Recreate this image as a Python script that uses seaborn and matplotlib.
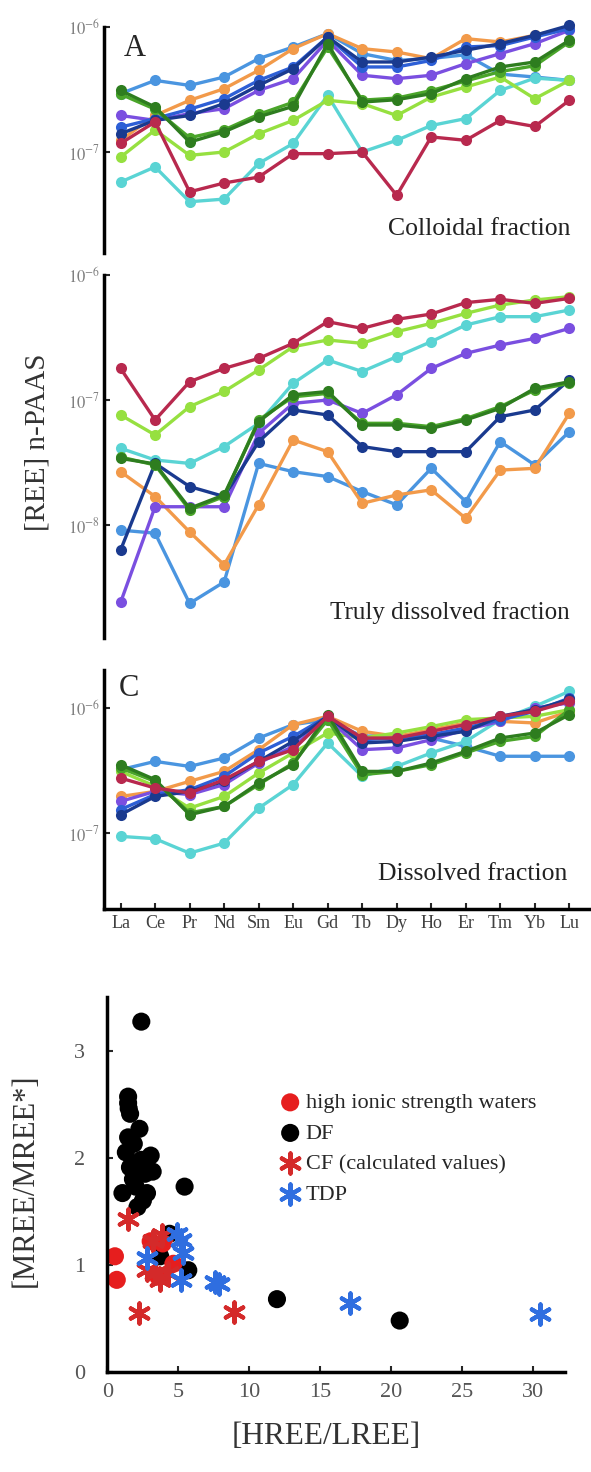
import numpy as np
import pandas as pd
import seaborn as sns
import matplotlib.pyplot as plt

# REE patterns, PAAS-normalised
elements = ['La', 'Ce', 'Pr', 'Nd', 'Sm', 'Eu', 'Gd', 'Tb', 'Dy', 'Ho', 'Er', 'Tm', 'Yb', 'Lu']
samples = ['S6', 'S7', 'S2', 'S3', 'S9', 'S10', 'S8', 'S5', 'S4', 'S1']
sample_colors = {'S1': '#b8294e', 'S2': '#5ad4d4', 'S3': '#96e040', 'S4': '#2e7d1f',
                 'S5': '#4aa52a', 'S6': '#4a95e0', 'S7': '#f29a4a', 'S8': '#1a3a8f',
                 'S9': '#7a4fe0', 'S10': '#2d5fd6'}

# colloidal fraction (x 1e-7)
colloidal = {
    'S1': [1.17, 1.74, 0.48, 0.565, 0.63, 0.97, 0.97, 1.0, 0.45, 1.32, 1.24, 1.79, 1.60, 2.59],
    'S2': [0.575, 0.76, 0.40, 0.42, 0.81, 1.17, 2.84, 1.0, 1.24, 1.63, 1.85, 3.11, 3.9, 3.74],
    'S3': [0.91, 1.5, 0.94, 1.0, 1.40, 1.79, 2.59, 2.44, 1.96, 2.75, 3.31, 3.98, 2.67, 3.74],
    'S4': [3.11, 2.29, 1.20, 1.45, 1.91, 2.32, 7.36, 2.51, 2.62, 2.93, 3.86, 4.79, 5.25, 7.82],
    'S5': [2.9, 2.2, 1.3, 1.5, 2.0, 2.5, 6.9, 2.6, 2.7, 3.1, 3.7, 4.4, 4.9, 7.6],
    'S6': [2.93, 3.74, 3.41, 3.98, 5.58, 6.92, 8.85, 6.12, 5.4, 5.6, 6.0, 4.2, 3.98, 3.74],
    'S7': [1.24, 1.96, 2.59, 3.21, 4.5, 6.71, 8.85, 6.71, 6.31, 5.58, 8.07, 7.59, 8.58, 10.0],
    'S8': [1.40, 1.79, 1.96, 2.44, 3.41, 4.64, 8.32, 5.25, 5.25, 5.75, 6.51, 7.36, 8.58, 10.3],
    'S9': [1.96, 1.79, 2.03, 2.22, 3.11, 3.86, 7.82, 4.11, 3.86, 4.11, 5.09, 6.12, 7.36, 9.4],
    'S10': [1.58, 1.85, 2.2, 2.67, 3.74, 4.79, 8.32, 4.79, 4.79, 5.4, 6.92, 7.1, 8.32, 9.7],
}

# truly dissolved fraction (x 1e-8)
truly_dissolved = {
    'S1': [17.9, 6.92, 14.0, 17.9, 21.5, 28.4, 42.3, 37.4, 44.2, 48.7, 60.1, 63.9, 59.3, 65.0],
    'S2': [4.11, 3.31, 3.11, 4.24, 6.51, 13.6, 20.9, 16.9, 22.2, 29.3, 39.8, 46.4, 46.4, 52.5],
    'S3': [7.59, 5.25, 8.85, 11.7, 17.4, 26.7, 30.2, 28.4, 35.2, 41.0, 49.3, 57.5, 63.1, 67.1],
    'S4': [3.41, 3.08, 1.36, 1.74, 6.71, 11.0, 11.7, 6.31, 6.31, 5.93, 6.92, 8.58, 12.4, 14.0],
    'S5': [3.5, 3.02, 1.32, 1.69, 6.92, 10.6, 11.3, 6.51, 6.51, 6.12, 7.1, 8.85, 12.0, 13.6],
    'S6': [0.91, 0.86, 0.236, 0.35, 3.11, 2.67, 2.44, 1.85, 1.45, 2.84, 1.54, 4.64, 3.02, 5.58],
    'S7': [2.67, 1.69, 0.88, 0.48, 1.45, 4.79, 3.86, 1.49, 1.74, 1.91, 1.13, 2.75, 2.84, 7.82],
    'S8': [0.63, 3.11, 2.03, 1.69, 4.64, 8.32, 7.59, 4.24, 3.86, 3.86, 3.86, 7.36, 8.32, 14.5],
    'S9': [0.24, 1.40, 1.40, 1.40, 5.41, 9.4, 10.0, 7.82, 11.0, 17.9, 23.6, 27.5, 31.1, 37.4],
}

# dissolved fraction (x 1e-7)
dissolved = {
    'S1': [2.75, 2.29, 2.09, 2.67, 3.74, 4.64, 8.58, 5.75, 5.75, 6.51, 7.36, 8.58, 9.4, 11.3],
    'S2': [0.94, 0.90, 0.69, 0.83, 1.58, 2.44, 5.25, 2.84, 3.41, 4.37, 5.41, 8.07, 10.3, 13.6],
    'S3': [3.11, 2.37, 1.58, 1.96, 3.02, 4.37, 6.31, 5.75, 6.31, 7.1, 8.07, 8.32, 8.58, 9.7],
    'S4': [3.52, 2.67, 1.40, 1.63, 2.51, 3.52, 8.85, 3.11, 3.11, 3.63, 4.5, 5.75, 6.31, 8.85],
    'S5': [3.31, 2.59, 1.45, 1.63, 2.44, 3.63, 8.07, 2.93, 3.11, 3.52, 4.37, 5.41, 5.93, 9.7],
    'S6': [3.21, 3.74, 3.41, 3.98, 5.75, 7.36, 8.07, 5.93, 6.12, 5.75, 4.93, 4.11, 4.11, 4.11],
    'S7': [1.96, 2.15, 2.59, 3.11, 4.64, 7.36, 8.58, 6.51, 5.93, 6.71, 7.59, 7.82, 7.59, 9.4],
    'S8': [1.40, 1.96, 2.15, 2.59, 3.74, 5.41, 8.58, 5.25, 5.41, 5.93, 6.51, 8.58, 9.7, 11.7],
    'S9': [1.79, 2.15, 2.03, 2.44, 3.63, 4.93, 8.32, 4.64, 4.79, 5.58, 6.71, 7.82, 10.0, 11.0],
    'S10': [1.54, 2.03, 2.22, 2.84, 4.37, 5.93, 8.58, 5.58, 5.75, 6.12, 6.92, 8.07, 9.4, 12.0],
}

# MREE anomaly vs HREE/LREE
hisw_x = [0.53, 0.66, 3.05, 3.58, 4.65, 3.9]
hisw_y = [1.08, 0.86, 1.22, 0.89, 1.01, 1.2]
df_x = [2.39, 1.46, 1.46, 1.5, 1.6, 2.26, 1.46, 1.86, 1.3, 3.05, 2.39, 1.59, 3.19, 2.65,
        1.06, 1.99, 2.79, 2.12, 2.5, 1.8, 2.2, 5.44, 4.38, 3.72, 5.7, 11.95, 20.6]
df_y = [3.27, 2.57, 2.51, 2.46, 2.41, 2.27, 2.19, 2.13, 2.05, 2.02, 1.98, 1.91, 1.87, 1.85,
        1.67, 1.73, 1.67, 1.54, 1.6, 1.8, 1.95, 1.73, 1.29, 1.08, 0.95, 0.68, 0.48]
cf_x = [1.46, 2.26, 8.9, 3.19, 3.85, 3.32, 3.72, 4.25, 2.79]
cf_y = [1.43, 0.55, 0.56, 1.22, 1.28, 0.92, 0.86, 0.92, 0.95]
tdp_x = [30.5, 17.1, 7.57, 7.9, 5.18, 5.3, 5.18, 2.79, 4.9]
tdp_y = [0.54, 0.64, 0.84, 0.82, 1.23, 1.11, 0.86, 1.06, 1.29]


def to_long(table, scale):
    rows = []
    for name, vals in table.items():
        for i, v in enumerate(vals):
            rows.append({'sample': name, 'idx': i, 'value': v * scale})
    return pd.DataFrame(rows)


sns.set_theme(style='white')
plt.rcParams['font.family'] = ['Liberation Serif', 'DejaVu Serif']
plt.rcParams['mathtext.fontset'] = 'stix'

W, H = 591, 1472
fig = plt.figure(figsize=(W / 100, H / 100), dpi=100)
fig.patch.set_facecolor('white')


def box(left, top, right, bottom):
    return [left / W, 1 - bottom / H, (right - left) / W, (bottom - top) / H]


axA = fig.add_axes(box(104, 27, 590, 253))
axB = fig.add_axes(box(104, 275, 590, 638))
axC = fig.add_axes(box(104, 670, 590, 909))
axD = fig.add_axes(box(107.4, 997, 565, 1372))

panels = [
    (axA, to_long(colloidal, 1e-7), (10 ** -7.808, 10 ** -6), [1e-6, 1e-7]),
    (axB, to_long(truly_dissolved, 1e-8), (10 ** -8.904, 10 ** -6), [1e-6, 1e-7, 1e-8]),
    (axC, to_long(dissolved, 1e-7), (10 ** -7.608, 10 ** -5.696), [1e-6, 1e-7]),
]

for ax, data, ylim, yticks in panels:
    order = [s for s in samples if s in data['sample'].unique()]
    sns.lineplot(data=data, x='idx', y='value', hue='sample', hue_order=order,
                 palette=sample_colors, marker='o', markersize=8, markeredgewidth=0,
                 linewidth=2.4, estimator=None, sort=False, legend=False, ax=ax)
    for line in ax.lines:
        line.set_clip_on(False)
    ax.set_yscale('log')
    ax.set_ylim(*ylim)
    ax.set_xlim(-0.48, 13.6)
    ax.set_yticks(yticks)
    ax.set_yticklabels([r'$10^{%d}$' % round(np.log10(t)) for t in yticks])
    ax.yaxis.set_minor_locator(plt.NullLocator())
    ax.tick_params(axis='y', direction='in', length=4, width=1.5, pad=3,
                   labelsize=12, labelcolor='#808080', left=True)
    ax.set_xlabel('')
    ax.set_ylabel('')
    for s in ['top', 'right', 'bottom']:
        ax.spines[s].set_visible(False)
    ax.spines['left'].set_linewidth(2.5)
    ax.spines['left'].set_color('black')
    ax.set_facecolor('none')

for ax in (axA, axB):
    ax.set_xticks([])

axC.spines['bottom'].set_visible(True)
axC.spines['bottom'].set_linewidth(2.5)
axC.spines['bottom'].set_color('black')
axC.set_xticks(range(len(elements)))
axC.set_xticklabels(elements)
axC.tick_params(axis='x', direction='in', length=4, width=1.5, pad=4,
                labelsize=13, labelcolor='#404040', bottom=True)

fig.text(124 / W, 1 - 48 / H, 'A', fontsize=22, ha='left', va='center')
fig.text(119 / W, 1 - 688 / H, 'C', fontsize=22, ha='left', va='center')
fig.text(571 / W, 1 - 229 / H, 'Colloidal fraction', fontsize=18.5, ha='right', va='center', color='#222222')
fig.text(570 / W, 1 - 613 / H, 'Truly dissolved fraction', fontsize=18, ha='right', va='center', color='#222222')
fig.text(567 / W, 1 - 874 / H, 'Dissolved fraction', fontsize=18.5, ha='right', va='center', color='#222222')
fig.text(38 / W, 1 - 442 / H, '[REE] n-PAAS', fontsize=21, rotation=90, ha='center', va='center', color='#333333')

# scatter panel
sns.scatterplot(x=df_x, y=df_y, color='black', s=170, edgecolor='none', label='DF', ax=axD)
sns.scatterplot(x=hisw_x, y=hisw_y, color='#e61e1e', s=170, edgecolor='none',
                label='high ionic strength waters', ax=axD)
sns.scatterplot(x=cf_x, y=cf_y, color='#d42a2a', marker=(6, 2, 0), s=210, linewidth=3,
                label='CF (calculated values)', ax=axD)
sns.scatterplot(x=tdp_x, y=tdp_y, color='#2f6ee0', marker=(6, 2, 0), s=210, linewidth=3,
                label='TDP', ax=axD)
handles, labels = axD.get_legend_handles_labels()
pick = [labels.index(l) for l in ['high ionic strength waters', 'DF', 'CF (calculated values)', 'TDP']]
axD.legend([handles[i] for i in pick], [labels[i] for i in pick], loc='upper left',
           bbox_to_anchor=(0.38, 0.745), frameon=False, fontsize=16, handlelength=0.8,
           handletextpad=0.3, labelspacing=0.45, borderaxespad=0, borderpad=0)

axD.set_xlim(0, 32.25)
axD.set_ylim(0, 3.5)
axD.set_xticks([0, 5, 10, 15, 20, 25, 30])
axD.set_yticks([0, 1, 2, 3])
axD.tick_params(axis='both', direction='in', length=4, width=1.5, labelsize=16,
                labelcolor='#555555', left=True, bottom=True)
axD.tick_params(axis='y', pad=16)
axD.tick_params(axis='x', pad=8)
for s in ['top', 'right']:
    axD.spines[s].set_visible(False)
for s in ['left', 'bottom']:
    axD.spines[s].set_linewidth(2.5)
    axD.spines[s].set_color('black')
axD.set_facecolor('none')
fig.text(326 / W, 1 - 1437 / H, '[HREE/LREE]', fontsize=22.5, ha='center', va='center', color='#333333')
fig.text(25 / W, 1 - 1180 / H, '[MREE/MREE*]', fontsize=22, rotation=90, ha='center', va='center', color='#333333')

fig.savefig('out.png', dpi=100, facecolor='white')
